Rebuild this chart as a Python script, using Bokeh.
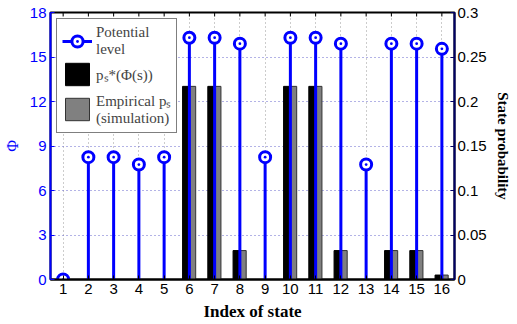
import math
from bokeh.plotting import figure
from bokeh.models import Range1d, LinearAxis, FixedTicker, Legend, LegendItem
from bokeh.embed import file_html
from bokeh.resources import INLINE

states = list(range(1, 17))
phi = [0, 8.25, 8.25, 7.75, 8.25, 16.3, 16.3, 15.9, 8.25, 16.3, 16.3, 15.9, 7.75, 15.9, 15.9, 15.55]
p_theory = [0, 0, 0, 0, 0, 0.217, 0.217, 0.0325, 0, 0.217, 0.217, 0.0325, 0, 0.0325, 0.0325, 0.005]
p_empirical = [0, 0, 0, 0, 0, 0.217, 0.217, 0.0325, 0, 0.217, 0.217, 0.0325, 0, 0.0325, 0.0325, 0.005]
phi_ticks = [0, 3, 6, 9, 12, 15, 18]
prob_ticks = [0, 0.05, 0.1, 0.15, 0.2, 0.25, 0.3]

BLUE = "#0000ff"
SANS = "Liberation Sans"
SERIF = "Liberation Serif"

p = figure(frame_width=404, frame_height=267, output_backend="svg", toolbar_location=None,
           x_range=Range1d(0.5, 16.5), y_range=Range1d(0, 18),
           min_border_left=40, min_border_right=10, min_border_top=12, min_border_bottom=10)
p.extra_y_ranges = {"prob": Range1d(0, 0.3)}
p.outline_line_color = "black"
p.outline_line_width = 2
p.background_fill_color = "white"

bx_black = [s - 0.135 for s in states]
bx_gray = [s + 0.13 for s in states]
r_black = p.vbar(x=bx_black, top=p_theory, width=0.27, y_range_name="prob",
                 fill_color="black", line_color="black", line_width=1)
r_gray = p.vbar(x=bx_gray, top=p_empirical, width=0.24, y_range_name="prob",
                fill_color="#808080", line_color="#333333", line_width=1)
r_seg = p.segment(x0=states, y0=[0] * 16, x1=states, y1=phi, line_color=BLUE, line_width=3)
r_mark = p.scatter(x=states, y=phi, marker="circle_dot", size=11, line_color=BLUE,
                   line_width=3, fill_color="white")

# top-edge ticks (inward)
p.scatter(x=states, y=[18] * 16, marker="dash", angle=math.pi / 2, size=8,
          line_color="black", line_width=1)

# axes
p.xaxis.ticker = FixedTicker(ticks=states)
p.xaxis.axis_label = "Index of state"
p.xaxis.axis_label_text_color = "black"
p.xaxis.axis_label_text_font = SERIF
p.xaxis.axis_label_text_font_style = "bold"
p.xaxis.axis_label_text_font_size = "17px"
p.xaxis.axis_label_standoff = 5
p.xaxis.major_label_text_font = SANS
p.xaxis.major_label_text_font_size = "15px"
p.xaxis.major_label_text_color = "black"
p.xaxis.major_label_standoff = 4
p.xaxis.major_tick_in = 4
p.xaxis.major_tick_out = 0
p.xaxis.minor_tick_line_color = None
p.xaxis.axis_line_color = "black"
p.xaxis.axis_line_width = 2

p.yaxis.ticker = FixedTicker(ticks=phi_ticks)
p.yaxis.axis_label = "Φ"
p.yaxis.axis_label_text_color = BLUE
p.yaxis.axis_label_text_font = SERIF
p.yaxis.axis_label_text_font_style = "normal"
p.yaxis.axis_label_text_font_size = "16px"
p.yaxis.axis_label_standoff = 6
p.yaxis.major_label_text_font = SANS
p.yaxis.major_label_text_font_size = "15px"
p.yaxis.major_label_text_color = BLUE
p.yaxis.major_label_standoff = 4
p.yaxis.major_tick_in = 4
p.yaxis.major_tick_out = 0
p.yaxis.minor_tick_line_color = None
p.yaxis.axis_line_color = BLUE
p.yaxis.major_tick_line_color = BLUE
p.yaxis.axis_line_width = 2

ry = LinearAxis(y_range_name="prob", ticker=FixedTicker(ticks=prob_ticks))
ry.axis_label = "State probability"
ry.axis_label_text_color = "black"
ry.axis_label_text_font = SERIF
ry.axis_label_text_font_style = "bold"
ry.axis_label_text_font_size = "15px"
ry.axis_label_standoff = 5
ry.major_label_text_font = SANS
ry.major_label_text_font_size = "15px"
ry.major_label_text_color = "black"
ry.major_label_standoff = 3
ry.major_tick_in = 4
ry.major_tick_out = 0
ry.minor_tick_line_color = None
ry.axis_line_color = "#000066"
ry.major_tick_line_color = "#000066"
ry.axis_line_width = 2
p.add_layout(ry, "right")

# grids
p.xgrid.ticker = FixedTicker(ticks=states)
p.xgrid.grid_line_color = "#999999"
p.xgrid.grid_line_dash = "1 3"
p.xgrid.grid_line_width = 1
p.ygrid.ticker = FixedTicker(ticks=phi_ticks)
p.ygrid.grid_line_color = "#6666cc"
p.ygrid.grid_line_dash = "1 3"
p.ygrid.grid_line_width = 1

legend = Legend(items=[
    LegendItem(label="Potential\nlevel", renderers=[r_seg, r_mark]),
    LegendItem(label="pₛ*(Φ(s))", renderers=[r_black]),
    LegendItem(label="Empirical pₛ\n(simulation)", renderers=[r_gray]),
], location="top_left")
legend.label_text_font = SERIF
legend.label_text_font_size = "15px"
legend.label_text_line_height = 1.05
legend.glyph_width = 30
legend.glyph_height = 28
legend.spacing = 2
legend.padding = 5
legend.margin = 6
legend.label_standoff = 4
legend.border_line_color = "black"
legend.border_line_width = 1
legend.background_fill_alpha = 1
p.add_layout(legend, "center")

open("out.html", "w").write(file_html(p, INLINE))
